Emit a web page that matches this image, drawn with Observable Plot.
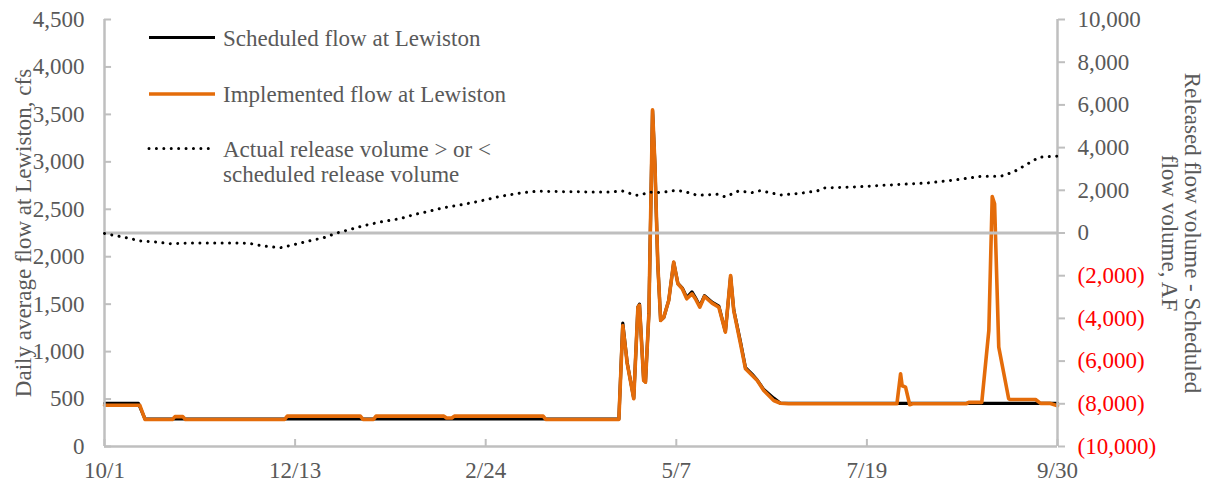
<!DOCTYPE html>
<html>
<head>
<meta charset="utf-8">
<script src="https://cdn.jsdelivr.net/npm/d3@7"></script>
<script src="https://cdn.jsdelivr.net/npm/@observablehq/plot@0.6"></script>
<style>
  html, body { margin: 0; padding: 0; background: #ffffff; }
  #wrap { position: relative; width: 1208px; height: 485px; font-family: "Liberation Serif", "Times New Roman", serif; }
  #legend { position: absolute; left: 0; top: 0; pointer-events: none; }
</style>
</head>
<body>
<div id="wrap"></div>
<script>
// ---------- Data (day 0 = 10/1, day 365 = 9/30) ----------
const xTickDays   = [0, 73, 146, 219, 292, 365];
const xTickLabels = ["10/1", "12/13", "2/24", "5/7", "7/19", "9/30"];
const leftTicks   = [0, 500, 1000, 1500, 2000, 2500, 3000, 3500, 4000, 4500];
const rightTicks  = [-10000, -8000, -6000, -4000, -2000, 0, 2000, 4000, 6000, 8000, 10000];

const seriesNames = [
  "Scheduled flow at Lewiston",
  "Implemented flow at Lewiston",
  "Actual release volume > or <\nscheduled release volume"
];
const leftTitle  = "Daily average flow at Lewiston, cfs";
const rightTitle = "Released flow volume - Scheduled\nflow volume, AF";

// Scheduled flow (cfs)
const schedDay = [0, 13, 15.5, 197, 198.5, 200.2, 202.7, 204.3, 204.9, 206.5, 207.2, 208.5, 209.9, 210.8, 211.9, 213, 214.2, 216.1, 218, 219.6, 221.3, 223, 225, 226.3, 228, 229.8, 232.7, 235.3, 237.8, 239.8, 241, 243.6, 245.5, 248.1, 250, 252.5, 256.3, 258.9, 365];
const schedCfs = [455, 455, 290, 290, 1300, 880, 510, 1470, 1500, 700, 680, 1400, 3540, 2980, 1930, 1330, 1360, 1540, 1940, 1720, 1670, 1570, 1630, 1570, 1480, 1590, 1520, 1480, 1210, 1790, 1440, 1100, 830, 760, 700, 600, 510, 455, 455];

// Implemented flow (cfs)
const implDay = [0, 13.5, 15.5, 26, 27, 30, 31, 69, 70, 98, 99, 103, 104, 130, 131, 133, 134, 168, 169, 197, 198.5, 200.2, 202.7, 204.3, 204.9, 206.5, 207.2, 208.5, 209.9, 210.8, 211.9, 213, 214.2, 216.1, 218, 219.6, 221.3, 223, 225, 226.3, 228, 229.8, 232.7, 235.3, 237.8, 239.8, 241, 243.6, 245.5, 248.1, 250, 252.5, 256.3, 258.9, 262, 303.5, 304.9, 305.5, 306.8, 308.4, 309.5, 330, 331, 336, 338.7, 340, 340.9, 342.5, 346.3, 347, 356.6, 358.5, 362, 365];
const implCfs = [435, 435, 285, 285, 315, 315, 285, 285, 320, 320, 285, 285, 320, 320, 300, 300, 320, 320, 285, 285, 1275, 875, 503, 1468, 1490, 696, 678, 1400, 3549, 2982, 1928, 1328, 1363, 1539, 1943, 1715, 1662, 1557, 1609, 1557, 1468, 1581, 1511, 1468, 1205, 1802, 1433, 1082, 819, 748, 696, 590, 485, 456, 450, 450, 766, 640, 625, 440, 450, 450, 465, 465, 1223, 2635, 2558, 1047, 503, 495, 495, 455, 455, 430];

// Actual minus scheduled release volume (AF)
const diffDay = [0, 2.3, 8.7, 13.8, 19.5, 25, 33, 53, 56, 61, 67.4, 72.5, 78.2, 84, 89, 94.2, 99.3, 105.7, 113.4, 118.5, 124.2, 130, 137.6, 143.4, 151.7, 159.3, 165.7, 173.4, 186, 193.8, 198.3, 203.4, 205.9, 208.5, 213, 218.7, 221.9, 227, 234.7, 237.8, 242.9, 248, 251.2, 258.9, 266.5, 273, 275.5, 289.5, 298.5, 315, 327.8, 335.5, 343.2, 348.2, 353.3, 358, 365];
const diffAF  = [-20, -80, -230, -375, -420, -500, -470, -470, -500, -610, -690, -545, -375, -220, 0, 170, 345, 515, 675, 860, 1015, 1190, 1345, 1485, 1720, 1875, 1955, 1940, 1920, 1920, 1970, 1765, 1800, 1920, 1890, 2000, 1950, 1765, 1810, 1690, 1970, 1890, 1985, 1780, 1860, 1970, 2110, 2170, 2235, 2340, 2515, 2655, 2655, 2860, 3220, 3550, 3600];

// ---------- Helpers ----------
const LEFT_MAX = 4500, RIGHT_MAX = 10000;
const afToCfs = af => LEFT_MAX / 2 + af * (LEFT_MAX / 2) / RIGHT_MAX;
const cfsToAf = v => Math.round((v - LEFT_MAX / 2) * RIGHT_MAX / (LEFT_MAX / 2));
const fmt = d3.format(",");
const afLabel = af => af < 0 ? `(${fmt(-af)})` : fmt(af);

const sched = schedDay.map((d, i) => ({day: d, cfs: schedCfs[i]}));
const impl  = implDay.map((d, i) => ({day: d, cfs: implCfs[i]}));
const diff  = diffDay.map((d, i) => ({day: d, af: diffAF[i]}));

const GRAY = "#BFBFBF", TEXT = "#595959", ORANGE = "#E46C0A", RED = "#FF0000";
const FONT = "Liberation Serif, Times New Roman, serif";
const DOTS = "0.01,7.4";

const chart = Plot.plot({
  width: 1208,
  height: 485,
  marginLeft: 104,
  marginRight: 151,
  marginTop: 19,
  marginBottom: 39,
  style: {fontFamily: FONT, fontSize: "23px", color: TEXT, background: "#ffffff", overflow: "visible"},
  x: {domain: [0, 365]},
  y: {domain: [0, LEFT_MAX]},
  marks: [
    Plot.line(sched, {x: "day", y: "cfs", stroke: "#000000", strokeWidth: 3.2, strokeLinejoin: "round"}),
    Plot.line(impl,  {x: "day", y: "cfs", stroke: ORANGE, strokeWidth: 3.6, strokeLinejoin: "round"}),
    // axis lines
    Plot.ruleX([0, 365], {stroke: GRAY, strokeWidth: 2.5}),
    Plot.ruleY([0], {stroke: GRAY, strokeWidth: 2.5}),
    Plot.ruleY([0], {y: () => afToCfs(0), stroke: GRAY, strokeWidth: 3}),
    // difference series (secondary axis)
    Plot.line(diff, {x: "day", y: d => afToCfs(d.af), stroke: "#000000", strokeWidth: 3, strokeDasharray: DOTS, strokeLinecap: "round"}),
    // inward ticks on left and bottom axes
    Plot.ruleY(leftTicks, {y: d => d, x1: 0, x2: 2.7, stroke: GRAY, strokeWidth: 2}),
    Plot.ruleX(xTickDays, {x: d => d, y1: 0, y2: 74, stroke: GRAY, strokeWidth: 2}),
    // left axis
    Plot.axisY(leftTicks, {anchor: "left", tickSize: 0, tickPadding: 20, tickFormat: fmt, fill: TEXT, label: null, fontSize: 23}),
    // right axis (positive in gray, negative in red)
    Plot.axisY(rightTicks.filter(t => t >= 0).map(afToCfs), {anchor: "right", tickSize: 7, tickPadding: 13, tickFormat: v => afLabel(cfsToAf(v)), stroke: GRAY, strokeWidth: 2, fill: TEXT, label: null, fontSize: 23}),
    Plot.axisY(rightTicks.filter(t => t < 0).map(afToCfs), {anchor: "right", tickSize: 7, tickPadding: 13, tickFormat: v => afLabel(cfsToAf(v)), stroke: GRAY, strokeWidth: 2, fill: RED, label: null, fontSize: 23}),
    // bottom axis
    Plot.axisX(xTickDays, {anchor: "bottom", tickSize: 0, tickPadding: 15, tickFormat: d => xTickLabels[xTickDays.indexOf(d)], fill: TEXT, label: null, fontSize: 23}),
    // axis titles
    Plot.text([leftTitle], {frameAnchor: "left", dx: -81, rotate: -90, fill: TEXT, fontSize: 23, textAnchor: "middle", lineAnchor: "middle"}),
    Plot.text([rightTitle], {frameAnchor: "right", dx: 123.5, rotate: 90, fill: TEXT, fontSize: 23, textAnchor: "middle", lineAnchor: "middle", lineHeight: 1})
  ]
});

const wrap = document.getElementById("wrap");
wrap.appendChild(chart);

// ---------- Legend overlay ----------
const legendStyles = [
  {stroke: "#000000", width: 3.2, dash: null, cap: "butt", x2: 215, y: 37.5, baselines: [46]},
  {stroke: ORANGE, width: 3.6, dash: null, cap: "butt", x2: 215, y: 94, baselines: [102]},
  {stroke: "#000000", width: 3, dash: DOTS, cap: "round", x2: 212, y: 148.5, baselines: [157, 182]}
];
const ns = "http://www.w3.org/2000/svg";
const leg = document.createElementNS(ns, "svg");
leg.setAttribute("id", "legend");
leg.setAttribute("width", 1208);
leg.setAttribute("height", 200);
seriesNames.forEach((name, i) => {
  const s = legendStyles[i];
  const ln = document.createElementNS(ns, "line");
  ln.setAttribute("x1", 149); ln.setAttribute("x2", s.x2);
  ln.setAttribute("y1", s.y); ln.setAttribute("y2", s.y);
  ln.setAttribute("stroke", s.stroke);
  ln.setAttribute("stroke-width", s.width);
  ln.setAttribute("stroke-linecap", s.cap);
  if (s.dash) ln.setAttribute("stroke-dasharray", s.dash);
  leg.appendChild(ln);
  name.split("\n").forEach((t, j) => {
    const tx = document.createElementNS(ns, "text");
    tx.setAttribute("x", 223);
    tx.setAttribute("y", s.baselines[j]);
    tx.setAttribute("fill", TEXT);
    tx.setAttribute("font-family", FONT);
    tx.setAttribute("font-size", "23px");
    tx.textContent = t;
    leg.appendChild(tx);
  });
});
wrap.appendChild(leg);
</script>
</body>
</html>
